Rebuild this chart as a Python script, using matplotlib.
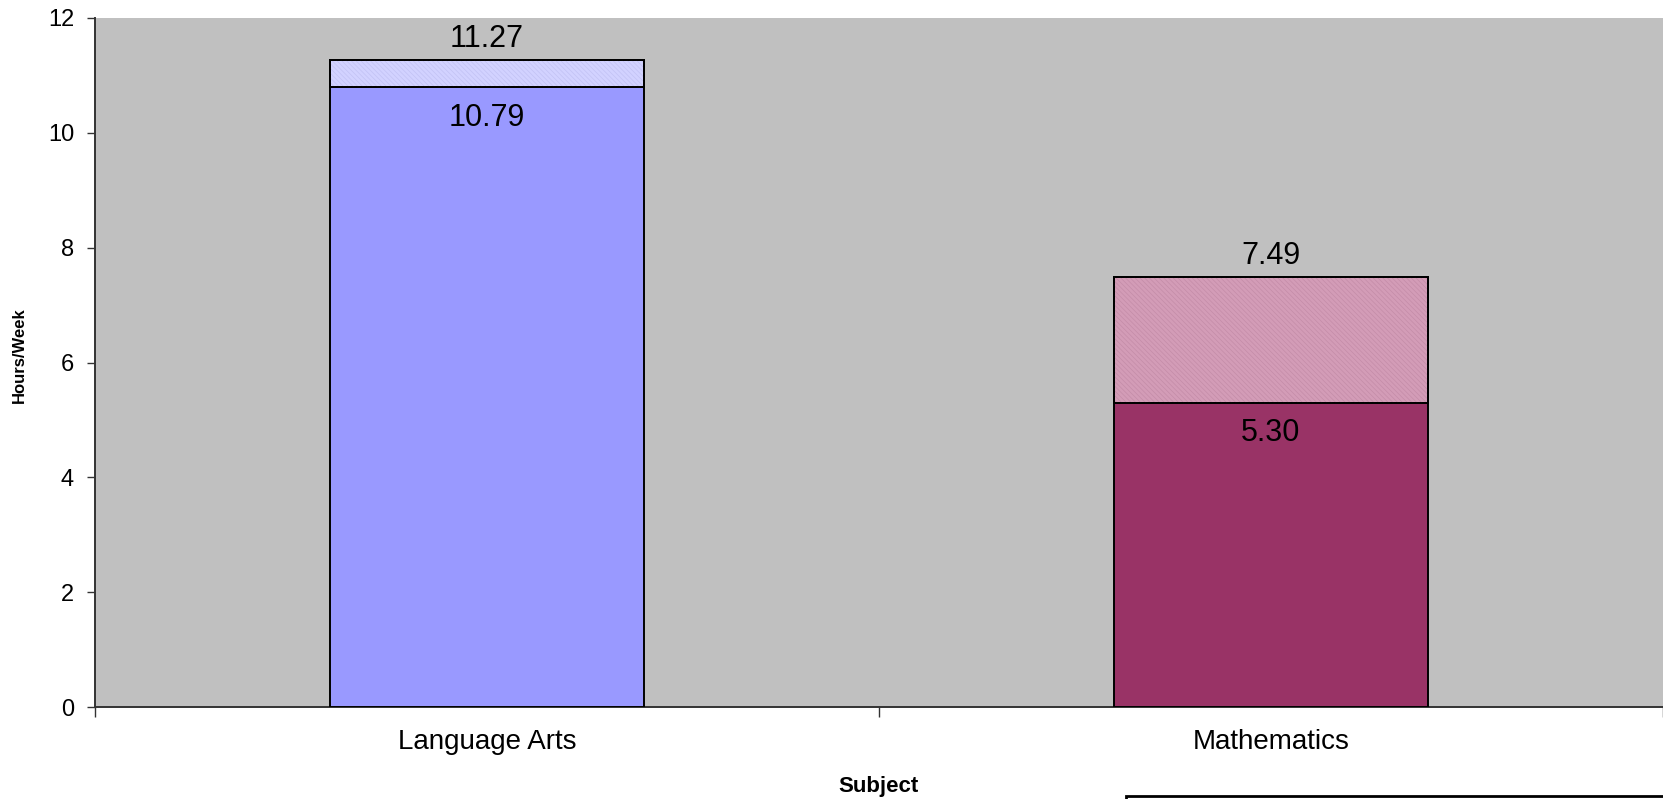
import matplotlib
matplotlib.use("Agg")
import matplotlib.pyplot as plt
from matplotlib.patches import Rectangle

plt.rcParams['font.family'] = ['Liberation Sans', 'DejaVu Sans']
plt.rcParams['hatch.linewidth'] = 0.5

subjects = ['Language Arts', 'Mathematics']
base_hours = [10.79, 5.30]
total_hours = [11.27, 7.49]
base_colors = ['#9999FF', '#993366']
top_colors = ['#D2D2FF', '#D39CB7']
hatch_colors = ['#C2C2F4', '#C48CA8']

fig = plt.figure(figsize=(16.63, 7.99), dpi=100)
ax = fig.add_axes([0.0571, 0.1151, 0.9429, 0.8624])
ax.set_facecolor('#C0C0C0')

x = list(range(len(subjects)))
for i in x:
    ax.bar(i, base_hours[i], width=0.4, color=base_colors[i],
           edgecolor='black', linewidth=1.4, zorder=3)
    top = ax.bar(i, total_hours[i] - base_hours[i], bottom=base_hours[i], width=0.4,
                 color=top_colors[i], edgecolor='black', linewidth=1.4, zorder=3)
    # fine diagonal pattern on the upper segment
    for p in top:
        ax.add_patch(Rectangle(p.get_xy(), p.get_width(), p.get_height(),
                               fill=False, hatch='\\\\\\\\\\\\\\', edgecolor=hatch_colors[i],
                               linewidth=0, zorder=3.5))
        ax.add_patch(Rectangle(p.get_xy(), p.get_width(), p.get_height(),
                               fill=False, edgecolor='black', linewidth=1.4, zorder=4))

    ax.annotate(f'{total_hours[i]:.2f}', (i, total_hours[i]), xytext=(0, 15),
                textcoords='offset points', ha='center', va='center', fontsize=22)
    ax.annotate(f'{base_hours[i]:.2f}', (i, base_hours[i]), xytext=(0, -22),
                textcoords='offset points', ha='center', va='center', fontsize=22,
                zorder=5)

ax.set_xlim(-0.5, 1.5)
ax.set_ylim(0, 12)
ax.set_yticks(range(0, 13, 2))
ax.set_xticks([-0.5, 0.5, 1.5])
ax.set_xticklabels([])
ax.set_xticks(x, minor=True)
ax.set_xticklabels(subjects, minor=True, fontsize=20)
ax.tick_params(axis='x', which='minor', length=0, pad=16)
ax.tick_params(axis='x', which='major', length=7, width=1, color='#333333')
ax.tick_params(axis='y', labelsize=17, length=6, width=1, color='#333333', pad=9)

for side in ['top', 'right']:
    ax.spines[side].set_visible(False)
for side in ['left', 'bottom']:
    ax.spines[side].set_color('#333333')
    ax.spines[side].set_linewidth(1.4)

fig.text(0.5285, 0.0160, 'Subject', ha='center', va='center',
         fontsize=16, fontweight='bold')
fig.text(0.0115, 0.556, 'Hours/Week', ha='center', va='center', rotation=90,
         fontsize=12, fontweight='bold')

# legend frame sitting at the bottom edge
fig.patches.append(Rectangle((1126 / 1663, -0.02), 0.4, 0.0235,
                             transform=fig.transFigure, fill=False,
                             edgecolor='black', linewidth=2))

fig.savefig('out.png', dpi=100)
